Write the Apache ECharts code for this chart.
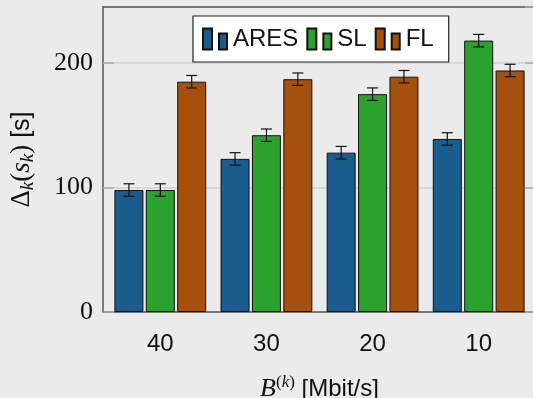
<!DOCTYPE html>
<html>
<head>
<meta charset="utf-8">
<script src="https://cdn.jsdelivr.net/npm/echarts@6/dist/echarts.min.js"></script>
<style>
  html, body { margin: 0; padding: 0; background: #ebebeb; }
  #main { width: 533px; height: 398px; }
</style>
</head>
<body>
<div id="main"></div>
<script>
// data
const categories = ["40", "30", "20", "10"]
const aresValues = [98, 123, 128, 139]
const slValues   = [98, 142, 175, 218]
const flValues   = [185, 187, 189, 194]
const aresErr = [5, 5, 5, 5]
const slErr   = [5, 5, 5, 5]
const flErr   = [5, 5, 5, 5]
const yTicks = [0, 100, 200]

const names  = ["ARES", "SL", "FL"]
const colors = ["#1a5c8b", "#2ca22e", "#a5510d"]
const values = [aresValues, slValues, flValues]
const errs   = [aresErr, slErr, flErr]

const barW = 29
const barGapPx = 2.4

const serif = "'Liberation Serif', 'DejaVu Serif', serif"
const sans  = "'Liberation Sans', 'DejaVu Sans', sans-serif"

const chartContainer = document.getElementById("main")
const myChart = echarts.init(chartContainer)

const toPairs = arr => arr.map((v, i) => [i, v])

const barSeries = names.map((name, k) => ({
  name,
  type: "bar",
  data: toPairs(values[k]),
  barWidth: barW,
  barGap: (barGapPx / barW * 100).toFixed(1) + "%",
  itemStyle: { color: colors[k], borderColor: "#111", borderWidth: 1 },
  animation: false
}))

const errSeries = names.map((name, k) => ({
  type: "custom",
  data: values[k].map((v, i) => [i, v, errs[k][i]]),
  encode: { x: 0, y: 1 },
  z: 5,
  silent: true,
  animation: false,
  renderItem: (params, api) => {
    const x = api.value(0), y = api.value(1), e = api.value(2)
    const top = api.coord([x, y + e])
    const bot = api.coord([x, y - e])
    const cx = top[0] + (k - 1) * (barW + barGapPx)
    const half = 5.5
    const style = { stroke: "#111", lineWidth: 1.2 }
    return {
      type: "group",
      children: [
        { type: "line", shape: { x1: cx, y1: top[1], x2: cx, y2: bot[1] }, style },
        { type: "line", shape: { x1: cx - half, y1: top[1], x2: cx + half, y2: top[1] }, style },
        { type: "line", shape: { x1: cx - half, y1: bot[1], x2: cx + half, y2: bot[1] }, style }
      ]
    }
  }
}))

const options = {
  backgroundColor: "#ebebeb",
  animation: false,
  textStyle: { fontFamily: sans },
  grid: { left: 103, right: -3, top: 7, bottom: 86, outerBoundsMode: "none", containLabel: false },
  legend: {
    data: names,
    left: 193,
    top: 16,
    padding: [11, 15, 11, 9],
    itemGap: 8,
    itemWidth: 24,
    itemHeight: 21,
    icon: "path://M0,0H9V21H0Z M16,5H24V21H16Z",
    backgroundColor: "#ffffff",
    borderColor: "#222",
    borderWidth: 1.2,
    borderRadius: 0,
    textStyle: { fontFamily: sans, fontSize: 24, color: "#111", padding: [0, 0, 0, 1] }
  },
  xAxis: [
    {
      type: "value",
      min: -0.54,
      max: 3.54,
      splitLine: { show: false },
      axisLine: { show: true, onZero: false, lineStyle: { color: "#555", width: 1.5 } },
      axisTick: { show: false },
      axisLabel: {
        customValues: [0, 1, 2, 3],
        formatter: v => categories[Math.round(v)],
        fontSize: 24,
        color: "#111",
        margin: 20,
        fontFamily: sans
      },
      name: "{bi|B}{sup|(}{supi|k}{sup|)}{sf| [Mbit/s]}",
      nameLocation: "middle",
      nameGap: 62,
      nameTextStyle: {
        rich: {
          bi: { fontFamily: serif, fontStyle: "italic", fontSize: 26, color: "#111", lineHeight: 30 },
          sup: { fontFamily: serif, fontSize: 17, color: "#111", verticalAlign: "top", lineHeight: 20 },
          supi: { fontFamily: serif, fontStyle: "italic", fontSize: 17, color: "#111", verticalAlign: "top", lineHeight: 20 },
          sf: { fontFamily: sans, fontSize: 24, color: "#111", lineHeight: 30 }
        }
      }
    },
    {
      type: "value",
      position: "top",
      min: -0.54,
      max: 3.54,
      splitLine: { show: false },
      axisLine: { show: true, onZero: false, lineStyle: { color: "#555", width: 1.5 } },
      axisTick: { show: false },
      axisLabel: { show: false }
    }
  ],
  yAxis: [
    {
      type: "value",
      min: 0,
      max: 245,
      interval: 100,
      axisLine: { show: true, onZero: false, lineStyle: { color: "#555", width: 1.5 } },
      axisTick: { show: true, inside: true, length: 11, lineStyle: { color: "#aaa", width: 1.5 } },
      splitLine: { show: true, lineStyle: { color: "#d2d2d2", width: 1.5 } },
      axisLabel: {
        showMaxLabel: false,
        formatter: v => (yTicks.includes(v) ? String(v) : ""),
        fontFamily: serif,
        fontSize: 26,
        color: "#111",
        margin: 10
      },
      name: "{m|Δ}{sub|k}{m|(}{mi|s}{sub|k}{m|)}{sf| [s]}",
      nameLocation: "middle",
      nameRotate: 90,
      nameGap: 66,
      nameTextStyle: {
        rich: {
          m: { fontFamily: serif, fontSize: 27, color: "#111", lineHeight: 30 },
          mi: { fontFamily: serif, fontStyle: "italic", fontSize: 27, color: "#111", lineHeight: 30 },
          sub: { fontFamily: serif, fontStyle: "italic", fontSize: 19, color: "#111", verticalAlign: "bottom", lineHeight: 20 },
          sf: { fontFamily: sans, fontSize: 25, color: "#111", lineHeight: 30 }
        }
      }
    },
    {
      type: "value",
      position: "right",
      min: 0,
      max: 245,
      interval: 100,
      axisLine: { show: true, onZero: false, lineStyle: { color: "#555", width: 1.5 } },
      axisTick: { show: true, inside: true, length: 11, lineStyle: { color: "#aaa", width: 1.5 } },
      splitLine: { show: false },
      axisLabel: { show: false }
    }
  ],
  series: [...barSeries, ...errSeries]
}

myChart.setOption(options)
window.onresize = () => myChart.resize()
</script>
</body>
</html>
